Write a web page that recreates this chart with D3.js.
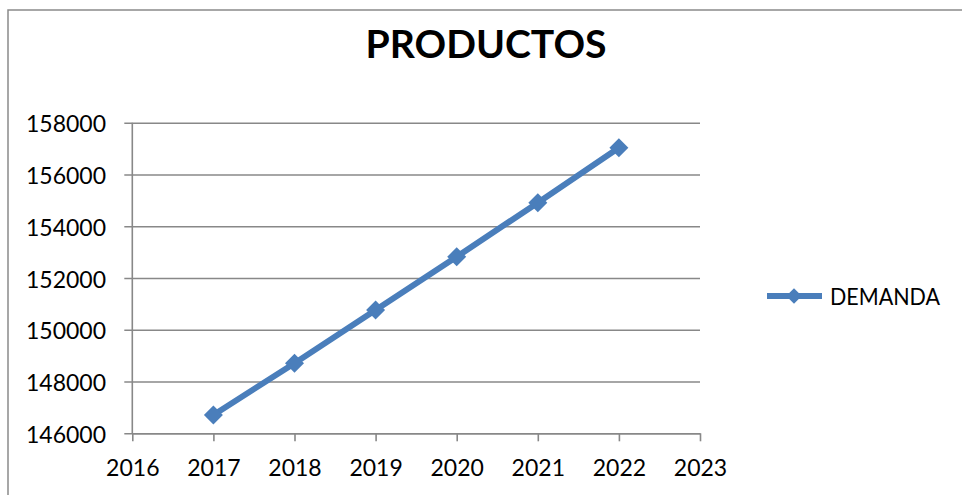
<!DOCTYPE html>
<html>
<head>
<meta charset="utf-8">
<script src="https://cdn.jsdelivr.net/npm/d3@7"></script>
<style>
  html, body { margin: 0; padding: 0; background: #fff; }
  svg { display: block; }
  text { font-family: Lato, "Open Sans", sans-serif; fill: #000; }
</style>
</head>
<body>
<svg id="chart" width="962" height="495"></svg>
<script>
// Annual demand series
const years = [2017, 2018, 2019, 2020, 2021, 2022];
const demanda = [146710, 148710, 150760, 152820, 154910, 157030];
const seriesName = "DEMANDA";
const chartTitle = "PRODUCTOS";
const xTicks = [2016, 2017, 2018, 2019, 2020, 2021, 2022, 2023];
const yTicks = [146000, 148000, 150000, 152000, 154000, 156000, 158000];

const blue = "#4a7ebb";
const gridColor = "#888888";

const svg = d3.select("#chart");

// outer chart frame (continues past the right and bottom edges)
svg.append("rect")
  .attr("x", 8).attr("y", 10)
  .attr("width", 980).attr("height", 520)
  .attr("fill", "#fff")
  .attr("stroke", "#8a8a8a")
  .attr("stroke-width", 1.5);

const plot = { left: 132.3, right: 700, top: 122.7, bottom: 433.3 };

const x = d3.scaleLinear().domain([2016, 2023]).range([plot.left, plot.right]);
const y = d3.scaleLinear().domain([146000, 158000]).range([plot.bottom, plot.top]);

// title
svg.append("text")
  .attr("x", 486).attr("y", 58)
  .attr("text-anchor", "middle")
  .attr("font-weight", "bold")
  .attr("font-size", 39)
  .attr("textLength", 241)
  .attr("lengthAdjust", "spacingAndGlyphs")
  .text(chartTitle);

// horizontal gridlines with outer tick marks, labels on the left
const yAxis = d3.axisLeft(y)
  .tickValues(yTicks)
  .tickSize(-(plot.right - plot.left))
  .tickSizeOuter(0)
  .tickPadding(0)
  .tickFormat(d3.format("d"));

const gy = svg.append("g")
  .attr("transform", `translate(${plot.left},0)`)
  .call(yAxis);
gy.select(".domain").remove();
gy.selectAll(".tick line")
  .attr("x1", -8)
  .attr("stroke", gridColor)
  .attr("stroke-width", 1.6);
gy.selectAll(".tick text")
  .attr("x", -26.3)
  .attr("dy", null)
  .attr("y", 9)
  .attr("font-size", 23)
  .attr("text-anchor", "end")
  .style("font-family", "Lato, sans-serif")
  .attr("fill", "#000");

// vertical axis line
svg.append("line")
  .attr("x1", plot.left).attr("x2", plot.left)
  .attr("y1", plot.top).attr("y2", plot.bottom)
  .attr("stroke", gridColor).attr("stroke-width", 1.6);

// bottom axis with year ticks
const xAxis = d3.axisBottom(x)
  .tickValues(xTicks)
  .tickSize(8)
  .tickSizeOuter(0)
  .tickPadding(0)
  .tickFormat(d3.format("d"));

const gx = svg.append("g")
  .attr("transform", `translate(0,${plot.bottom})`)
  .call(xAxis);
gx.select(".domain")
  .attr("stroke", gridColor).attr("stroke-width", 1.6);
gx.selectAll(".tick line")
  .attr("stroke", gridColor).attr("stroke-width", 1.6);
gx.selectAll(".tick text")
  .attr("y", 42.7)
  .attr("dy", null)
  .attr("font-size", 23)
  .style("font-family", "Lato, sans-serif")
  .attr("fill", "#000");

// series line
const data = years.map((yr, i) => ({ year: yr, value: demanda[i] }));

svg.append("path")
  .datum(data)
  .attr("fill", "none")
  .attr("stroke", blue)
  .attr("stroke-width", 6)
  .attr("stroke-linejoin", "round")
  .attr("d", d3.line().x(d => x(d.year)).y(d => y(d.value)));

// diamond markers
const diamond = d3.symbol().type(d3.symbolSquare).size(180);
svg.append("g")
  .selectAll("path")
  .data(data)
  .join("path")
  .attr("d", diamond)
  .attr("transform", d => `translate(${x(d.year)},${y(d.value)}) rotate(45)`)
  .attr("fill", blue);

// legend
const lg = svg.append("g");
lg.append("line")
  .attr("x1", 767).attr("x2", 822)
  .attr("y1", 296).attr("y2", 296)
  .attr("stroke", blue).attr("stroke-width", 6);
lg.append("path")
  .attr("d", d3.symbol().type(d3.symbolSquare).size(120))
  .attr("transform", "translate(794,296) rotate(45)")
  .attr("fill", blue);
lg.append("text")
  .attr("x", 830).attr("y", 305)
  .attr("font-size", 23)
  .attr("textLength", 110)
  .attr("lengthAdjust", "spacingAndGlyphs")
  .text(seriesName);
</script>
</body>
</html>
